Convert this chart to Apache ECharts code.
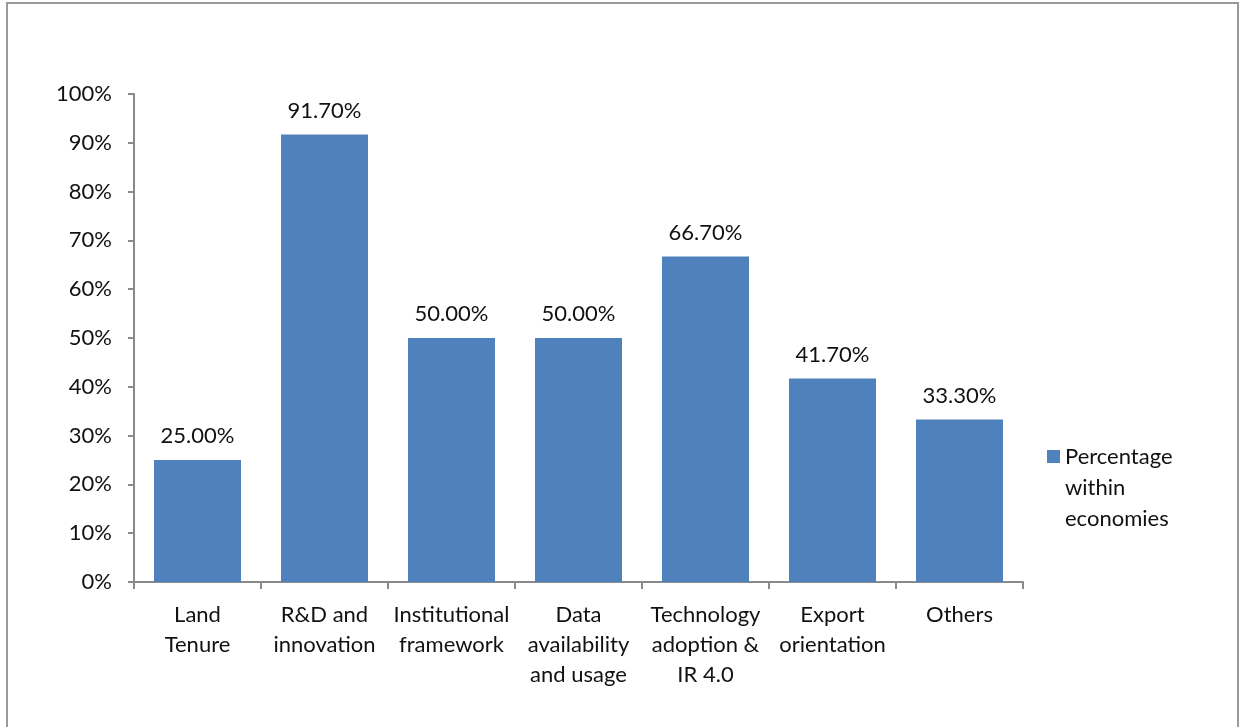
<!DOCTYPE html>
<html>
<head>
<meta charset="utf-8">
<script src="https://cdn.jsdelivr.net/npm/echarts@6/dist/echarts.min.js"></script>
<style>
  html, body { margin: 0; padding: 0; background: #fff; }
  #chart { width: 1244px; height: 727px; }
</style>
</head>
<body>
<div id="chart"></div>
<script>
var categories = [
    'Land\nTenure',
    'R&D and\ninnovation',
    'Institutional\nframework',
    'Data\navailability\nand usage',
    'Technology\nadoption &\nIR 4.0',
    'Export\norientation',
    'Others'
];
var percentages = [25.0, 91.7, 50.0, 50.0, 66.7, 41.7, 33.3];
var seriesName = 'Percentage\nwithin\neconomies';
var yTicks = { min: 0, max: 100, step: 10 };

var font = 'Lato, "Open Sans", sans-serif';
var fontSize = 22;
var axisGray = '#8a8a8a';

var chart = echarts.init(document.getElementById('chart'), null, { renderer: 'canvas' });

// legend square sits on the first text line: tall icon box, square drawn at its top
var legendIcon = 'path://M0,0L13,0L13,13L0,13Z M0,75L0.01,75L0,75Z';

var option = {
    backgroundColor: '#fff',
    animation: false,
    textStyle: { fontFamily: font },
    graphic: [{
        type: 'rect',
        shape: { x: 7, y: 3, width: 1231, height: 760 },
        style: { fill: 'none', stroke: '#9a9a9a', lineWidth: 2 },
        silent: true
    }],
    grid: { left: 134, right: 221, top: 94, bottom: 145 },
    legend: {
        orient: 'vertical',
        left: 1047,
        top: 441,
        padding: 0,
        itemWidth: 13,
        itemHeight: 75,
        icon: legendIcon,
        itemStyle: { borderWidth: 0 },
        textStyle: {
            fontFamily: font, fontSize: fontSize, color: '#111', lineHeight: 31
        },
        data: [seriesName]
    },
    xAxis: {
        type: 'category',
        data: categories,
        axisLine: { lineStyle: { color: axisGray, width: 2 } },
        axisTick: { show: true, length: 7, lineStyle: { color: axisGray, width: 2 } },
        axisLabel: {
            interval: 0, margin: 18, color: '#111',
            fontFamily: font, fontSize: fontSize, lineHeight: 30
        }
    },
    yAxis: {
        type: 'value',
        min: yTicks.min,
        max: yTicks.max,
        interval: yTicks.step,
        splitLine: { show: false },
        axisLine: { show: true, lineStyle: { color: axisGray, width: 2 } },
        axisTick: { show: true, length: 6, lineStyle: { color: axisGray, width: 2 } },
        axisLabel: {
            margin: 22, color: '#111', fontFamily: font, fontSize: fontSize,
            formatter: '{value}%'
        }
    },
    series: [{
        name: seriesName,
        type: 'bar',
        data: percentages,
        barWidth: 87,
        itemStyle: { color: '#4F81BD' },
        label: {
            show: true,
            position: 'top',
            distance: 13,
            color: '#111',
            fontFamily: font,
            fontSize: fontSize,
            formatter: function (p) { return p.value.toFixed(2) + '%'; }
        }
    }]
};

chart.setOption(option);
</script>
</body>
</html>
